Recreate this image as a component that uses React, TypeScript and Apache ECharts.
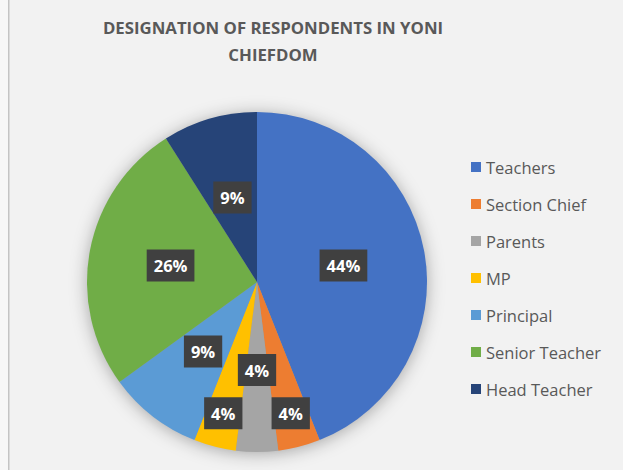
import React, { useEffect, useRef } from "react";
import * as echarts from "echarts";

const categories = ["Teachers", "Section Chief", "Parents", "MP", "Principal", "Senior Teacher", "Head Teacher"];
const values = [44, 4, 4, 4, 9, 26, 9];
const colors = ["#4472C4", "#ED7D31", "#A5A5A5", "#FFC000", "#5B9BD5", "#70AD47", "#264478"];
const outerLabelItems = ["Section Chief", "MP"];

const CENTER: [number, number] = [257, 282];
const RADIUS = 170;
const FONT = "'Open Sans', 'Noto Sans', sans-serif";

export default function App() {
  const ref = useRef<HTMLDivElement>(null);
  useEffect(() => {
    document.body.style.margin = "0";
    const chart = echarts.init(ref.current!, null, { renderer: "svg" });
    const total = values.reduce((a, b) => a + b, 0);
    const midAngles: number[] = [];
    let acc = 0;
    values.forEach((v) => {
      midAngles.push(((acc + v / 2) / total) * Math.PI * 2);
      acc += v;
    });
    const shift = RADIUS * 0.28;
    chart.setOption({
      animation: false,
      backgroundColor: "#f2f2f2",
      title: {
        text: "DESIGNATION OF RESPONDENTS IN YONI\nCHIEFDOM",
        left: 268,
        top: 9,
        textAlign: "center",
        textStyle: { fontFamily: FONT, fontSize: 16.8, fontWeight: "bold", color: "#595959", lineHeight: 27 },
      },
      legend: {
        orient: "vertical",
        left: 466,
        top: 153,
        itemWidth: 10,
        itemHeight: 10,
        itemGap: 19,
        icon: "rect",
        data: categories,
        textStyle: { fontFamily: FONT, fontSize: 16.5, color: "#595959", lineHeight: 18 },
      },
      graphic: [
        { type: "rect", left: 0, top: 0, shape: { width: 8, height: 470 }, style: { fill: "#f7f7f7" }, z: 0 },
        { type: "rect", left: 8, top: 0, shape: { width: 1.5, height: 470 }, style: { fill: "#c4c4c4" }, z: 0 },
        {
          type: "circle",
          shape: { cx: CENTER[0], cy: CENTER[1], r: RADIUS - 1 },
          style: { fill: "#999", shadowBlur: 18, shadowColor: "rgba(0,0,0,0.35)", shadowOffsetY: 2 },
          z: 0,
        },
      ],
      series: [
        {
          type: "pie",
          center: CENTER,
          radius: [0, RADIUS],
          startAngle: 90,
          clockwise: true,
          z: 2,
          itemStyle: { borderWidth: 0 },
          label: {
            show: true,
            position: "inside",
            formatter: (p: any) => p.value + "%",
            fontFamily: FONT,
            fontSize: 16.5,
            fontWeight: "bold",
            color: "#ffffff",
            backgroundColor: "#404040",
            padding: [8, 7, 7, 7],
          },
          labelLine: { show: false },
          labelLayout: (params: any) => {
            const i = params.dataIndex;
            if (outerLabelItems.indexOf(categories[i]) < 0) return {};
            const a = midAngles[i];
            return { dx: Math.sin(a) * shift, dy: -Math.cos(a) * shift };
          },
          emphasis: { disabled: true },
          data: categories.map((name, i) => ({ name, value: values[i], itemStyle: { color: colors[i] } })),
        },
      ],
    });
    return () => chart.dispose();
  }, []);
  return <div ref={ref} style={{ position: "fixed", left: 0, top: 0, width: 623, height: 470 }} />;
}
